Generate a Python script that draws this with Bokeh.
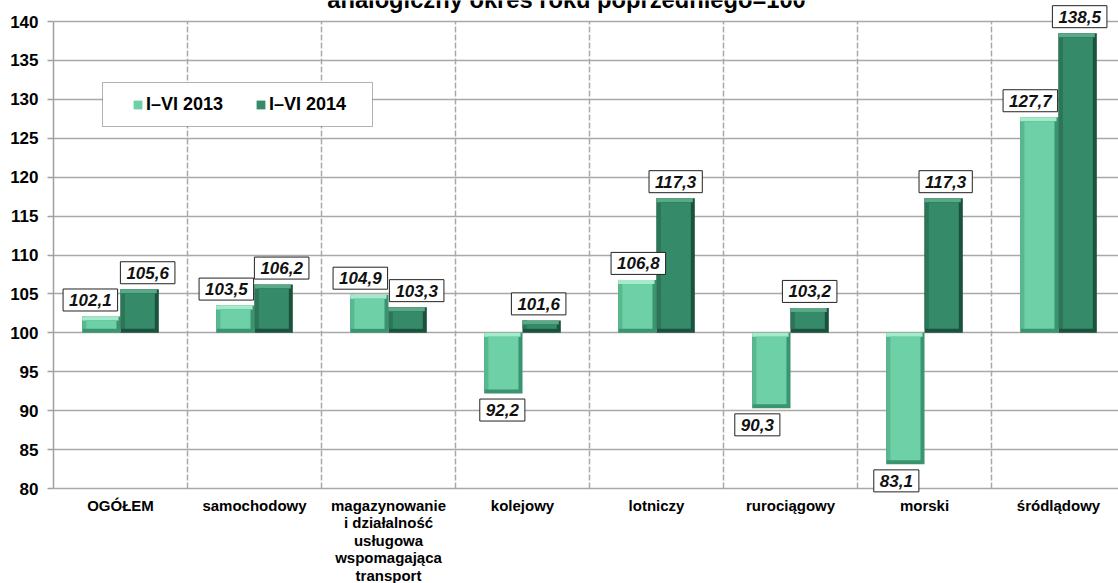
from bokeh.plotting import figure
from bokeh.models import (ColumnDataSource, Range1d, FixedTicker, LabelSet, Label,
                          Legend, LegendItem, BoxAnnotation)
from bokeh.embed import file_html
from bokeh.resources import INLINE
from bokeh.core.properties import value

# ---------------- data ----------------
categories = ["OGÓŁEM", "samochodowy",
              "magazynowanie\ni działalność\nusługowa\nwspomagająca\ntransport",
              "kolejowy", "lotniczy", "rurociągowy", "morski", "śródlądowy"]
series_names = ["I–VI 2013", "I–VI 2014"]
values_2013 = [102.1, 103.5, 104.9, 92.2, 106.8, 90.3, 83.1, 127.7]
values_2014 = [105.6, 106.2, 103.3, 101.6, 117.3, 103.2, 117.3, 138.5]
y_ticks = [80, 85, 90, 95, 100, 105, 110, 115, 120, 125, 130, 135, 140]
title_text = "analogiczny okres roku poprzedniego=100"
baseline = 100

# ---------------- layout / style ----------------
W, H = 1118, 583
BL = 53                 # left border holding the value axis
AX_TOP, AX_BOT = 21, 488  # pixel rows of the 140 and 80 grid lines
CAT_PX = 134.0
PY = (AX_BOT - AX_TOP) / (y_ticks[-1] - y_ticks[0])
XMAX = (W - BL) / CAT_PX
Y0 = y_ticks[0] - (H - AX_BOT) / PY
Y1 = y_ticks[-1] + AX_TOP / PY
BAR_W = 0.286
BEV_X = 4 / CAT_PX
BEV_Y = 4 / PY
FONT = "Liberation Sans"
GRID = "#a9a9a9"

# per-label horizontal nudges (px) as placed in the original chart
nudge = [[-11, -9, -9, -1, 1, -14, -9, -9],
         [8, 8, 9, -3, 0, 0, 2, 2]]

styles = [
    dict(face="#6dd0a6", top="#a4ebcc", left="#59b88f", base="#3a9470"),
    dict(face="#358b69", top="#5aa987", left="#2b7658", base="#1b523d"),
]

p = figure(width=W, height=H, x_range=Range1d(0, XMAX), y_range=Range1d(Y0, Y1),
           output_backend="svg", toolbar_location=None,
           min_border_left=BL, min_border_right=0, min_border_top=0, min_border_bottom=0,
           background_fill_color="white", border_fill_color="white",
           styles={"position": "absolute", "top": "0px", "left": "0px"})
p.outline_line_color = None

# axes
p.xaxis.visible = False
ya = p.yaxis[0]
ya.bounds = (y_ticks[0], y_ticks[-1])
ya.ticker = FixedTicker(ticks=y_ticks)
ya.minor_tick_line_color = None
ya.major_tick_in = 0
ya.major_tick_out = 6
ya.major_tick_line_color = "#a0a0a0"
ya.major_tick_line_width = 1.5
ya.axis_line_color = "#a0a0a0"
ya.axis_line_width = 1.5
ya.major_label_text_font = FONT
ya.major_label_text_font_style = "bold"
ya.major_label_text_font_size = "17px"
ya.major_label_text_color = "black"
ya.major_label_standoff = 9

# grids
p.ygrid.ticker = FixedTicker(ticks=y_ticks)
p.ygrid.grid_line_color = GRID
p.ygrid.grid_line_width = 1.5
p.xgrid.visible = False
bounds_x = list(range(1, len(categories)))
p.segment(x0=bounds_x, x1=bounds_x, y0=[y_ticks[0]] * len(bounds_x), y1=[y_ticks[-1]] * len(bounds_x),
          line_color=GRID, line_width=1.5, line_dash="6 2")

# bars with bevel look
face_renderers = []
GAP = 4
HALF = 12.5
for s, vals in enumerate([values_2013, values_2014]):
    off = (-0.5 if s == 0 else 0.5) * BAR_W
    cx = [i + 0.5 + off for i in range(len(categories))]
    left = [c - BAR_W / 2 for c in cx]
    right = [c + BAR_W / 2 for c in cx]
    top = [max(v, baseline) for v in vals]
    bot = [min(v, baseline) for v in vals]
    st = styles[s]
    p.quad(left=left, right=right, top=top, bottom=bot, fill_color=st["base"], line_color=None)
    p.quad(left=left, right=[l + BEV_X for l in left], top=top, bottom=[b + BEV_Y for b in bot],
           fill_color=st["left"], line_color=None)
    p.quad(left=left, right=[r - BEV_X * 0.5 for r in right], top=top, bottom=[t - BEV_Y for t in top],
           fill_color=st["top"], line_color=None)
    fr = p.quad(left=[l + BEV_X for l in left], right=[r - BEV_X for r in right],
                top=[t - BEV_Y for t in top], bottom=[b + BEV_Y for b in bot],
                fill_color=st["face"], line_color=None)
    face_renderers.append(fr)

    # value labels
    for i, v in enumerate(vals):
        p.add_layout(Label(x=cx[i], y=v, text=f"{v:.1f}".replace(".", ","),
                           x_offset=nudge[s][i],
                           y_offset=(GAP + HALF) if v >= baseline else -(GAP + HALF),
                           text_align="center", text_baseline="middle",
                           text_font=FONT, text_font_style="bold italic",
                           text_font_size="17px", text_color="#111111",
                           background_fill_color="white", border_line_color="#222222",
                           border_line_width=1, padding=dict(left=6, right=6, top=5, bottom=5)))

# category labels (multi-line, centred per line)
cx_, cy_, ct_, co_ = [], [], [], []
for i, name in enumerate(categories):
    for j, line in enumerate(name.split("\n")):
        cx_.append(i + 0.5)
        cy_.append(y_ticks[0])
        ct_.append(line)
        co_.append(-(16.5 + 17.6 * j))
p.add_layout(LabelSet(x="x", y="y", text="t", y_offset="o",
                      source=ColumnDataSource(dict(x=cx_, y=cy_, t=ct_, o=co_)),
                      text_align="center", text_baseline="middle",
                      text_font=value(FONT), text_font_style="bold",
                      text_font_size="15px", text_color="black"))

# legend box + legend (screen units from the frame's bottom-left corner)
p.add_layout(BoxAnnotation(left=49, right=319, top=H - 82, bottom=H - 126,
                           left_units="screen", right_units="screen",
                           top_units="screen", bottom_units="screen",
                           fill_color="white", fill_alpha=1.0,
                           line_color="black", line_width=1, level="annotation"))
legend = Legend(items=[LegendItem(label=series_names[0], renderers=[face_renderers[0]]),
                       LegendItem(label=series_names[1], renderers=[face_renderers[1]])],
                orientation="horizontal", location=(79, H - 115), padding=0, margin=0,
                border_line_color=None, background_fill_alpha=0,
                glyph_width=11, glyph_height=11, label_standoff=3, spacing=31,
                label_width=78, label_text_font=FONT, label_text_font_style="bold",
                label_text_font_size="18px", label_text_color="black")
p.add_layout(legend, "center")

# title (cut off at the top of the picture, as in the original)
p.add_layout(Label(x=566 - BL, y=H + 0.5, x_units="screen", y_units="screen",
                   text=title_text, text_align="center", text_baseline="alphabetic",
                   text_font=FONT, text_font_style="bold", text_font_size="23.7px",
                   text_color="black"))

open("out.html", "w").write(file_html(p, INLINE))
